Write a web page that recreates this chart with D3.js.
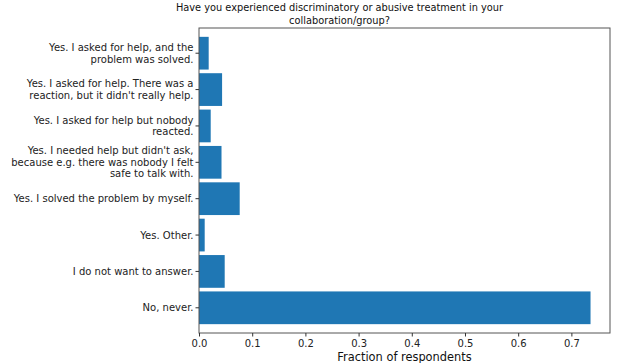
<!DOCTYPE html>
<html>
<head>
<meta charset="utf-8">
<script src="https://cdn.jsdelivr.net/npm/d3@7"></script>
<style>
  body { margin: 0; background: #fff; }
  svg { display: block; font-family: "DejaVu Sans", sans-serif; }
</style>
</head>
<body>
<svg id="chart"></svg>
<script>
// answers, top to bottom as shown
const categories = [
  "Yes. I asked for help, and the\nproblem was solved.",
  "Yes. I asked for help. There was a\nreaction, but it didn't really help.",
  "Yes. I asked for help but nobody\nreacted.",
  "Yes. I needed help but didn't ask,\nbecause e.g. there was nobody I felt\nsafe to talk with.",
  "Yes. I solved the problem by myself.",
  "Yes. Other.",
  "I do not want to answer.",
  "No, never."
];
const fractions = [0.0182, 0.0434, 0.0220, 0.0423, 0.0765, 0.0107, 0.0483, 0.736];
const xTicks = [0, 0.1, 0.2, 0.3, 0.4, 0.5, 0.6, 0.7];
const titleLines = ["Have you experienced discriminatory or abusive treatment in your", "collaboration/group?"];

const width = 623, height = 363;
const margin = { top: 28, right: 13, bottom: 30, left: 199 };

const svg = d3.select("#chart").attr("width", width).attr("height", height);

const data = categories.map((c, i) => ({ label: c, value: fractions[i] }));

const x = d3.scaleLinear()
  .domain([0, 0.7726])
  .range([margin.left, width - margin.right]);

const y = d3.scaleBand()
  .domain(categories)
  .range([margin.top, height - margin.bottom])
  .paddingInner(0.1)
  .paddingOuter(0.243);

// bars
svg.append("g")
  .selectAll("rect")
  .data(data)
  .join("rect")
  .attr("x", x(0))
  .attr("y", d => y(d.label))
  .attr("width", d => x(d.value) - x(0))
  .attr("height", y.bandwidth())
  .attr("fill", "#1f77b4");

// frame
svg.append("rect")
  .attr("x", x.range()[0])
  .attr("y", y.range()[0])
  .attr("width", x.range()[1] - x.range()[0])
  .attr("height", y.range()[1] - y.range()[0])
  .attr("fill", "none")
  .attr("stroke", "#555")
  .attr("stroke-width", 1);

// x axis
const xAxis = svg.append("g")
  .attr("transform", `translate(0,${height - margin.bottom})`)
  .call(d3.axisBottom(x).tickValues(xTicks).tickFormat(d3.format(".1f")).tickSize(3.5).tickPadding(3.5));
xAxis.select(".domain").remove();
xAxis.selectAll("line").attr("stroke", "#333");
xAxis.selectAll("text").attr("font-size", 10).attr("fill", "#222").attr("font-family", "DejaVu Sans");

// y axis (multi-line labels)
const yAxis = svg.append("g")
  .attr("transform", `translate(${margin.left},0)`)
  .call(d3.axisLeft(y).tickSize(3.5).tickPadding(5).tickFormat(""));
yAxis.select(".domain").remove();
yAxis.selectAll("line").attr("stroke", "#333");

const lineGap = 11.5;
yAxis.selectAll(".tick").each(function(d) {
  const lines = d.split("\n");
  const t = d3.select(this).select("text")
    .attr("font-size", 10)
    .attr("fill", "#222")
    .attr("font-family", "DejaVu Sans")
    .attr("x", -5.5)
    .attr("dy", null)
    .attr("text-anchor", "end");
  lines.forEach((ln, i) => {
    t.append("tspan")
      .attr("x", -5.5)
      .attr("y", (i - (lines.length - 1) / 2) * lineGap + 3.6)
      .text(ln);
  });
});

// title
const title = svg.append("text")
  .attr("text-anchor", "middle")
  .attr("font-size", 9.8)
  .attr("fill", "#111");
titleLines.forEach((ln, i) => {
  title.append("tspan")
    .attr("x", 339.5)
    .attr("y", 11 + i * 12.7)
    .text(ln);
});

// x label
svg.append("text")
  .attr("x", (x.range()[0] + x.range()[1]) / 2)
  .attr("y", 361)
  .attr("text-anchor", "middle")
  .attr("font-size", 11.4)
  .attr("fill", "#111")
  .text("Fraction of respondents");
</script>
</body>
</html>
